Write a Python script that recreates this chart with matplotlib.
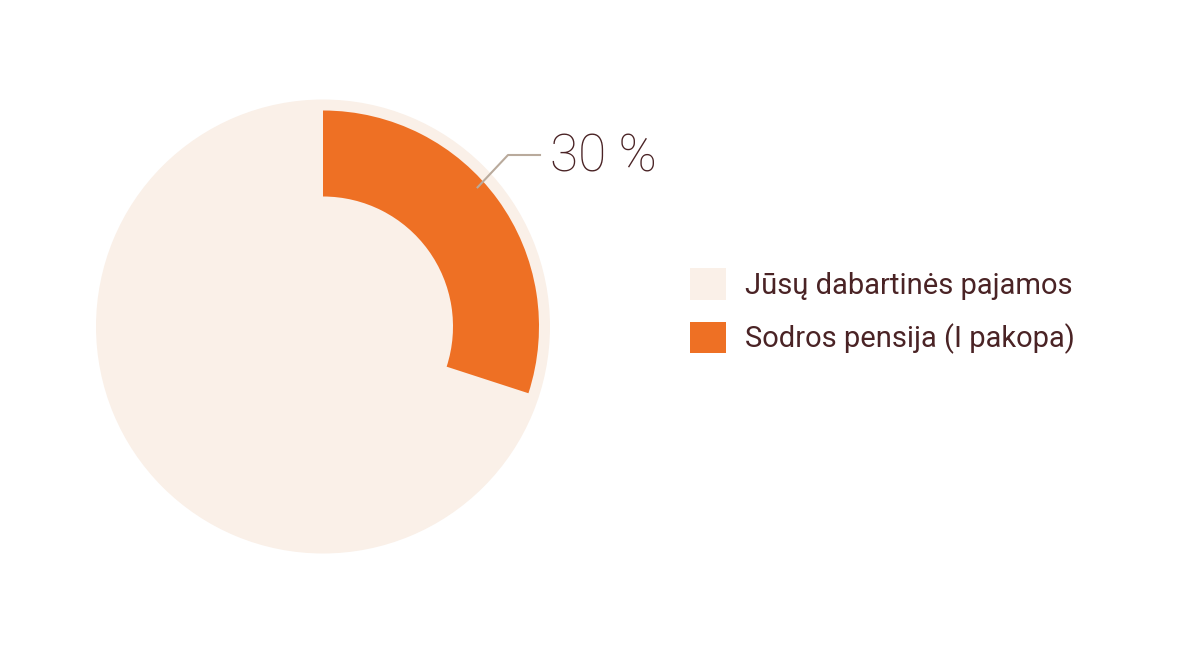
import matplotlib
matplotlib.use("Agg")
import matplotlib.pyplot as plt
import numpy as np

labels = ["Jūsų dabartinės pajamos", "Sodros pensija (I pakopa)"]
share = 0.30
pct_label = "30 %"

BEIGE = "#FAF0E8"
ORANGE = "#EE7024"
TEXT = "#4A2325"
LINE = "#B9AA9C"

plt.rcParams["font.family"] = ["Roboto", "DejaVu Sans"]

W, H = 1200, 655
fig = plt.figure(figsize=(W / 100, H / 100), dpi=100)
ax = fig.add_axes([0, 0, 1, 1])

cx, cy = 323, H - 326.5

# full background disc = current income
bg, _ = ax.pie([1], radius=227, center=(cx, cy), colors=[BEIGE],
               startangle=90, frame=True)
# orange ring slice = Sodra pension share
ring, _ = ax.pie([share, 1 - share], radius=216, center=(cx, cy),
                 colors=[ORANGE, "none"], startangle=90, counterclock=False,
                 wedgeprops=dict(width=86, linewidth=0), frame=True)
ax.set_xlim(0, W)
ax.set_ylim(0, H)
ax.set_aspect("equal")
ax.axis("off")

# leader line to the label
ang = np.deg2rad(42)
r = 208
p0 = (cx + r * np.cos(ang), cy + r * np.sin(ang))
ax.plot([p0[0], 508, 540], [p0[1], H - 155, H - 155], color=LINE, lw=1.5)
ax.text(550, H - 158, pct_label, fontsize=37, color=TEXT, fontweight="light",
        va="center", ha="left")

ax.legend([bg[0], ring[0]], labels, loc="upper left",
          bbox_to_anchor=(690, H - 268), bbox_transform=ax.transData,
          frameon=False, handlelength=1.24, handleheight=1.3,
          handletextpad=0.65, labelspacing=0.75, borderpad=0, borderaxespad=0,
          labelcolor=TEXT, prop=dict(weight="normal", size=21))

fig.savefig("out.png", dpi=100, facecolor="white")
